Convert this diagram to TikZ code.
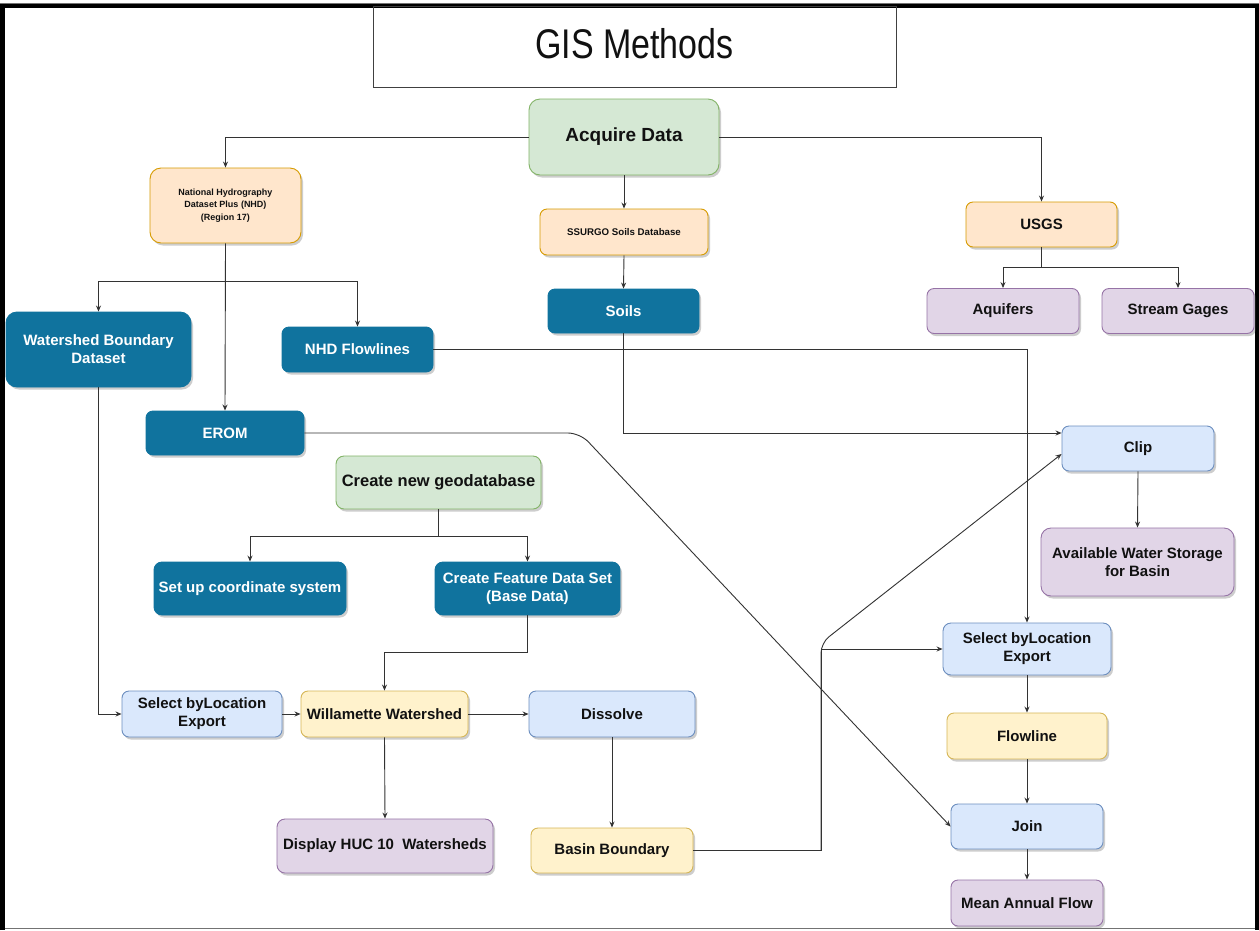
\documentclass[tikz,border=0pt]{standalone}
\usepackage{fontspec}
\setmainfont{Liberation Sans}
\usetikzlibrary{arrows.meta,shadows,calc}
\definecolor{gfill}{HTML}{D5E8D4}\definecolor{gline}{HTML}{82B366}
\definecolor{ofill}{HTML}{FFE6CC}\definecolor{oline}{HTML}{D79B00}
\definecolor{pfill}{HTML}{E1D5E7}\definecolor{pline}{HTML}{9673A6}
\definecolor{bfill}{HTML}{DAE8FC}\definecolor{bline}{HTML}{6C8EBF}
\definecolor{yfill}{HTML}{FFF2CC}\definecolor{yline}{HTML}{D6B656}
\definecolor{dfill}{HTML}{10739E}
\definecolor{edgec}{HTML}{333333}
\definecolor{txt}{HTML}{111111}
\tikzset{
  box/.style={rounded corners=7pt, align=center, inner sep=0pt, line width=0.9pt,
    text=txt, font=\fontsize{15}{18}\selectfont\bfseries,
    drop shadow={shadow xshift=2pt,shadow yshift=-2.5pt,opacity=0.28,fill=black!70}},
  greenbox/.style={box, fill=gfill, draw=gline},
  orangebox/.style={box, fill=ofill, draw=oline},
  purplebox/.style={box, fill=pfill, draw=pline},
  lightbox/.style={box, fill=bfill, draw=bline},
  yellowbox/.style={box, fill=yfill, draw=yline},
  darkbox/.style={box, fill=dfill, draw=dfill, text=white},
  sz/.style n args={2}{minimum width=#1pt, minimum height=#2pt},
  arr/.style={draw=edgec, line width=0.9pt, -{Stealth[length=6pt,width=5pt]}},
  ln/.style={draw=edgec, line width=0.9pt}
}
\begin{document}
\begin{tikzpicture}[x=1pt,y=-1pt]
\useasboundingbox (0,0) rectangle (1259,930);
\fill[white] (0,0) rectangle (1259,930);
% frame
\draw[black!55, line width=1pt] (0,928.5) -- (1259,928.5);
\draw[black!55, line width=1pt] (0,3.5) -- (1259,3.5);
\draw[black, line width=4.5pt] (2.5,930) -- (2.5,6) -- (1257,6) -- (1257,930);
% title
\draw[draw=black!75, line width=0.9pt] (373,6) rectangle (896,87);
\node[inner sep=0pt, font=\fontsize{34}{40}\selectfont, text=txt] (title) at (634.5,44) {\scalebox{1}[1.22]{GIS Methods}};
% nodes
\node[greenbox, sz={190}{76}, rounded corners=11pt, font=\fontsize{19}{22}\selectfont\bfseries] (acq) at (624,137) {Acquire Data};
\node[orangebox, sz={151}{75}, rounded corners=11pt, font=\fontsize{9}{12.5}\selectfont\bfseries] (nhd) at (225.5,205.5) {National Hydrography\\Dataset Plus (NHD)\\(Region 17)};
\node[orangebox, sz={168}{46}, font=\fontsize{9.7}{12}\selectfont\bfseries] (ssurgo) at (624,232) {SSURGO Soils Database};
\node[orangebox, sz={151}{45}] (usgs) at (1041.5,224.5) {USGS};
\node[purplebox, sz={152}{45}] (aq) at (1003,311) {Aquifers};
\node[purplebox, sz={152}{45}] (sg) at (1178,311) {Stream Gages};
\node[darkbox, sz={151}{44}] (soils) at (623.5,311) {Soils};
\node[darkbox, sz={185}{75}, rounded corners=11pt] (wbd) at (98.5,349.5) {Watershed Boundary\\Dataset};
\node[darkbox, sz={151}{45}] (nhdfl) at (357.5,349.5) {NHD Flowlines};
\node[darkbox, sz={158}{44}] (erom) at (225,433) {EROM};
\node[greenbox, sz={205}{53}, rounded corners=8pt, font=\fontsize{16.5}{20}\selectfont\bfseries] (geodb) at (438.5,482.5) {Create new geodatabase};
\node[darkbox, sz={192}{53}, rounded corners=8pt] (setup) at (250,588.5) {Set up coordinate system};
\node[darkbox, sz={185}{53}, rounded corners=8pt] (cfds) at (527.5,588.5) {Create Feature Data Set\\(Base Data)};
\node[lightbox, sz={160}{46}] (selL) at (202,714) {Select byLocation\\Export};
\node[yellowbox, sz={167}{46}] (will) at (384.5,714) {Willamette Watershed};
\node[lightbox, sz={166}{46}] (diss) at (612,714) {Dissolve};
\node[purplebox, sz={216}{54}, rounded corners=8pt] (disp) at (385,846) {Display HUC 10\ \ Watersheds};
\node[yellowbox, sz={162}{45}] (basin) at (612,850.5) {Basin Boundary};
\node[lightbox, sz={152}{45}] (clip) at (1138,448.5) {Clip};
\node[purplebox, sz={193}{68}, rounded corners=10pt] (aws) at (1137.5,562) {Available Water Storage\\for Basin};
\node[lightbox, sz={168}{52}, rounded corners=8pt] (selR) at (1027,649) {Select byLocation\\Export};
\node[yellowbox, sz={160}{46}] (flow) at (1027,736) {Flowline};
\node[lightbox, sz={152}{45}] (join) at (1027,826.5) {Join};
\node[purplebox, sz={152}{46}] (maf) at (1027,903) {Mean Annual Flow};
% connectors
\draw[arr] (acq.west) -| (nhd.north);
\draw[arr] (acq.south) -- (ssurgo.north);
\draw[arr] (acq.east) -| (usgs.north);
\draw[ln] (usgs.south) -- (usgs.south |- 0,267);
\draw[arr] (usgs.south |- 0,267) -| (aq.north);
\draw[arr] (usgs.south |- 0,267) -| (sg.north);
\draw[arr] (ssurgo.south) -- (soils.north);
\draw[arr] (nhd.south) -- (erom.north);
\draw[arr] (nhd.south |- 0,281) -| (wbd.north);
\draw[arr] (nhd.south |- 0,281) -| (nhdfl.north);
\draw[arr] (nhdfl.east) -| (selR.north);
\draw[arr] (soils.south) |- ($(clip.west)+(0,-15.5)$);
\draw[arr, rounded corners=12pt] (erom.east) -- (580,433) -- (join.west);
\draw[ln] (geodb.south) -- (geodb.south |- 0,536);
\draw[arr] (geodb.south |- 0,536) -| (setup.north);
\draw[arr] (geodb.south |- 0,536) -| (cfds.north);
\draw[arr] (cfds.south) -- (cfds.south |- 0,652) -| (will.north);
\draw[arr] (wbd.south) |- (selL.west);
\draw[arr] (selL.east) -- (will.west);
\draw[arr] (will.east) -- (diss.west);
\draw[arr] (will.south) -- (disp.north);
\draw[arr] (diss.south) -- (basin.north);
\draw[arr] (basin.east) -- (821,850.5) -- (821,649) -- (selR.west);
\draw[arr] (basin.east) -- (821,850.5) [rounded corners=10pt] -- (821,643) -- ($(clip.west)+(0,5.5)$);
\draw[arr] (clip.south) -- (aws.north);
\draw[arr] (selR.south) -- (flow.north);
\draw[arr] (flow.south) -- (join.north);
\draw[arr] (join.south) -- (maf.north);
\end{tikzpicture}
\end{document}
